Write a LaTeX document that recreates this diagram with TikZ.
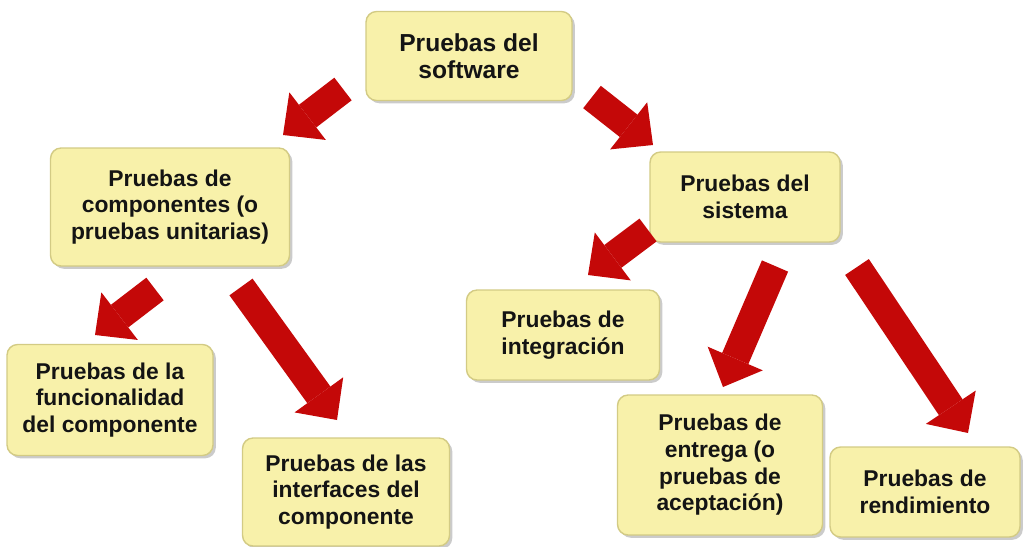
\documentclass[tikz,border=0pt]{standalone}
\usepackage{fontspec}
\setmainfont{Liberation Sans}
\usetikzlibrary{arrows.meta,shadows}
\definecolor{PSYellow}{HTML}{F8F1AA}
\definecolor{PSEdge}{HTML}{D3CB84}
\definecolor{PSRed}{HTML}{C40808}
\definecolor{PSText}{HTML}{141414}
\tikzset{
  testbox/.style={rounded corners=6pt,fill=PSYellow,draw=PSEdge,line width=0.8pt,
    align=center,inner sep=0pt,text=PSText,
    font=\bfseries\fontsize{13}{15.2}\selectfont,
    drop shadow={shadow xshift=1.6pt,shadow yshift=-1.6pt,fill=black!45,opacity=0.45}},
  redarrow/.style={PSRed,line width=0.57cm,
    -{Triangle[length=0.62cm,width=1.20cm,line width=0pt]}}
}

\begin{document}
\begin{tikzpicture}[x=0.02cm,y=-0.02cm]
\path[use as bounding box] (0,0) rectangle (1024,547);
% boxes
\node[testbox,minimum width=4.12cm,minimum height=1.78cm,
  font=\bfseries\fontsize{14}{15.4}\selectfont] (soft) at (469,56) {Pruebas del\\software};
\node[testbox,minimum width=4.78cm,minimum height=2.36cm] (comp) at (170,207) {Pruebas de\\componentes (o\\pruebas unitarias)};
\node[testbox,minimum width=3.80cm,minimum height=1.80cm] (sist) at (745,197) {Pruebas del\\sistema};
\node[testbox,minimum width=3.86cm,minimum height=1.80cm] (integ) at (563,335) {Pruebas de\\integración};
\node[testbox,minimum width=4.12cm,minimum height=2.22cm] (func) at (110,400) {Pruebas de la\\funcionalidad\\del componente};
\node[testbox,minimum width=4.14cm,minimum height=2.16cm] (inter) at (346,492) {Pruebas de las\\interfaces del\\componente};
\node[testbox,minimum width=4.10cm,minimum height=2.80cm] (entr) at (720,465) {Pruebas de\\entrega (o\\pruebas de\\aceptación)};
\node[testbox,minimum width=3.80cm,minimum height=1.80cm] (rend) at (925,492) {Pruebas de\\rendimiento};
% arrow ends
\coordinate (t1) at (343,89);  \coordinate (h1) at (283,135);
\coordinate (t2) at (592,97);  \coordinate (h2) at (653,145);
\coordinate (t3) at (155,289); \coordinate (h3) at (95,335);
\coordinate (t4) at (241,287); \coordinate (h4) at (337,420);
\coordinate (t5) at (648,230); \coordinate (h5) at (588,275);
\coordinate (t6) at (775,266); \coordinate (h6) at (723,387);
\coordinate (t7) at (857,267); \coordinate (h7) at (968,433);
% arrows
\draw[redarrow] (t1) -- (h1);
\draw[redarrow] (t2) -- (h2);
\draw[redarrow] (t3) -- (h3);
\draw[redarrow] (t4) -- (h4);
\draw[redarrow] (t5) -- (h5);
\draw[redarrow] (t6) -- (h6);
\draw[redarrow] (t7) -- (h7);
\end{tikzpicture}
\end{document}
